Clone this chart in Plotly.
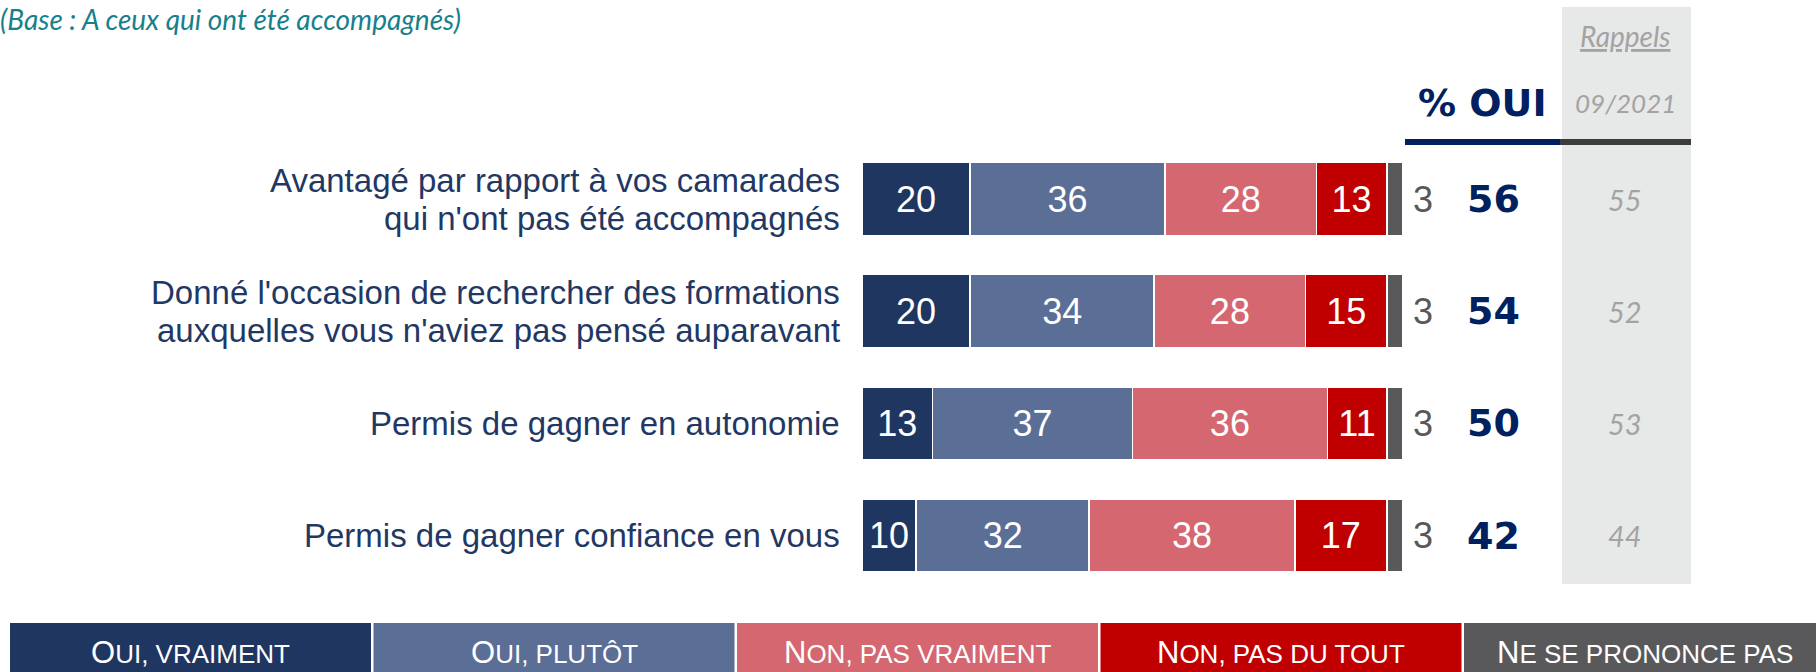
import plotly.graph_objects as go

W, H = 1816, 672

# --- data -------------------------------------------------------------
categories = [
    "Avantagé par rapport à vos camarades<br>qui n'ont pas été accompagnés",
    "Donné l'occasion de rechercher des formations<br>auxquelles vous n'aviez pas pensé auparavant",
    "Permis de gagner en autonomie",
    "Permis de gagner confiance en vous",
]
oui_vraiment = [20, 20, 13, 10]
oui_plutot = [36, 34, 37, 32]
non_pas_vraiment = [28, 28, 36, 38]
non_pas_du_tout = [13, 15, 11, 17]
nsp = [3, 3, 3, 3]
rappels_2021 = [55, 52, 53, 44]

series = [
    ("Oui, vraiment", oui_vraiment, "#1E3660", ("O", "UI, VRAIMENT")),
    ("Oui, plutôt", oui_plutot, "#5B6E96", ("O", "UI, PLUTÔT")),
    ("Non, pas vraiment", non_pas_vraiment, "#D56770", ("N", "ON, PAS VRAIMENT")),
    ("Non, pas du tout", non_pas_du_tout, "#C00000", ("N", "ON, PAS DU TOUT")),
    ("Ne se prononce pas", nsp, "#59595B", ("N", "E SE PRONONCE PAS")),
]

NAVY = "#1F3864"
DARK_BLUE = "#002060"
GREY_TXT = "#595959"
RAPPEL_TXT = "#A3A3A3"


def px(x):
    return x / W


def py(y):
    return 1 - y / H


# pixel geometry of the bar area
BAR_X0, BAR_X1 = 862, 1403
UNIT = (BAR_X1 - BAR_X0) / 100
ROW0, ROW_STEP = 199, 112.17

fig = go.Figure()
for name, vals, color, _ in series:
    is_nsp = vals is nsp
    fig.add_trace(
        go.Bar(
            x=vals,
            y=categories,
            orientation="h",
            name=name,
            width=0.65,
            marker=dict(color=color, line=dict(color="white", width=1.5)),
            text=None if is_nsp else [str(v) for v in vals],
            textposition="inside",
            insidetextanchor="middle",
            textangle=0,
            textfont=dict(family="Liberation Sans, Arial", size=36, color="white"),
            showlegend=False,
            hoverinfo="skip",
        )
    )

ann = []
shapes = []

# category labels (right aligned, manual line spacing)
for cat in categories:
    lines = cat.split("<br>")
    n = len(lines)
    for k, line in enumerate(lines):
        ann.append(dict(
            x=px(842), xref="paper", xanchor="right",
            y=cat, yref="y", yanchor="middle",
            yshift=((n - 1) / 2 - k) * 38,
            text=line, showarrow=False,
            font=dict(family="Liberation Sans, Arial", size=33, color=NAVY),
        ))

totals = [sum(t) for t in zip(oui_vraiment, oui_plutot, non_pas_vraiment, non_pas_du_tout, nsp)]
pct_oui = [a + b for a, b in zip(oui_vraiment, oui_plutot)]
for cat, tot, v, p, r in zip(categories, totals, nsp, pct_oui, rappels_2021):
    ann.append(dict(
        x=tot, xref="x", xanchor="left", xshift=8,
        y=cat, yref="y", yanchor="middle",
        text=str(v), showarrow=False,
        font=dict(family="Liberation Sans, Arial", size=36, color=GREY_TXT),
    ))
    ann.append(dict(
        x=px(1493), xref="paper", xanchor="center",
        y=cat, yref="y", yanchor="middle",
        text=f"<b>{p}</b>", showarrow=False,
        font=dict(family="DejaVu Sans", size=38, color=DARK_BLUE),
    ))
    ann.append(dict(
        x=px(1625), xref="paper", xanchor="center",
        y=cat, yref="y", yanchor="middle",
        text=f"<i>{r}</i>", showarrow=False,
        font=dict(family="Lato", size=29, color=RAPPEL_TXT),
    ))

# rappels column background
shapes.append(dict(type="rect", xref="paper", yref="paper", layer="below",
                   x0=px(1562), x1=px(1691), y0=py(584), y1=py(7),
                   fillcolor="#E7E8E8", line=dict(width=0)))
# header rules
shapes.append(dict(type="line", xref="paper", yref="paper",
                   x0=px(1405), x1=px(1560), y0=py(142), y1=py(142),
                   line=dict(color=DARK_BLUE, width=6)))
shapes.append(dict(type="line", xref="paper", yref="paper",
                   x0=px(1560), x1=px(1691), y0=py(142), y1=py(142),
                   line=dict(color="#3C3C3C", width=6)))

# headers
ann.append(dict(x=px(1482), y=py(103), xref="paper", yref="paper",
                xanchor="center", yanchor="middle", showarrow=False,
                text="<b>% OUI</b>",
                font=dict(family="DejaVu Sans", size=38, color=DARK_BLUE)))
ann.append(dict(x=px(1625), y=py(36), xref="paper", yref="paper",
                xanchor="center", yanchor="middle", showarrow=False,
                text="<i><u>Rappels</u></i>",
                font=dict(family="Lato", size=28, color=RAPPEL_TXT)))
ann.append(dict(x=px(1625), y=py(103), xref="paper", yref="paper",
                xanchor="center", yanchor="middle", showarrow=False,
                text="<i>09/2021</i>",
                font=dict(family="Lato", size=26, color=RAPPEL_TXT)))

# base note (top-left)
ann.append(dict(x=px(-2), y=py(19), xref="paper", yref="paper",
                xanchor="left", yanchor="middle", showarrow=False,
                text="<i>(Base : A ceux qui ont été accompagnés)</i>",
                font=dict(family="Lato", size=28, color="#17808D")))

# legend boxes at the bottom
BOX_W, BOX_GAP, BOX_X0 = 361, 2.5, 10
for i, (name, vals, color, (first, rest)) in enumerate(series):
    x0 = BOX_X0 + i * (BOX_W + BOX_GAP)
    x1 = x0 + BOX_W
    shapes.append(dict(type="rect", xref="paper", yref="paper",
                       x0=px(x0), x1=px(x1), y0=py(H + 20), y1=py(623),
                       fillcolor=color, line=dict(width=0)))
    ann.append(dict(x=px((x0 + x1) / 2), y=py(652), xref="paper", yref="paper",
                    xanchor="center", yanchor="middle", showarrow=False,
                    text=f"{first}<span style='font-size:26px'>{rest}</span>",
                    font=dict(family="Liberation Sans, Arial", size=31, color="white")))

fig.update_layout(
    width=W, height=H,
    margin=dict(l=0, r=0, t=0, b=0),
    paper_bgcolor="white", plot_bgcolor="rgba(0,0,0,0)",
    barmode="stack",
    xaxis=dict(visible=False, range=[-BAR_X0 / UNIT, (W - BAR_X0) / UNIT], domain=[0, 1]),
    yaxis=dict(visible=False, type="category", categoryarray=categories,
               range=[(H - ROW0) / ROW_STEP, -ROW0 / ROW_STEP], domain=[0, 1]),
    annotations=ann,
    shapes=shapes,
)

fig.write_html("out.html", config={"displayModeBar": False},
               post_script="document.body.style.margin='0';document.body.style.overflow='hidden';")
